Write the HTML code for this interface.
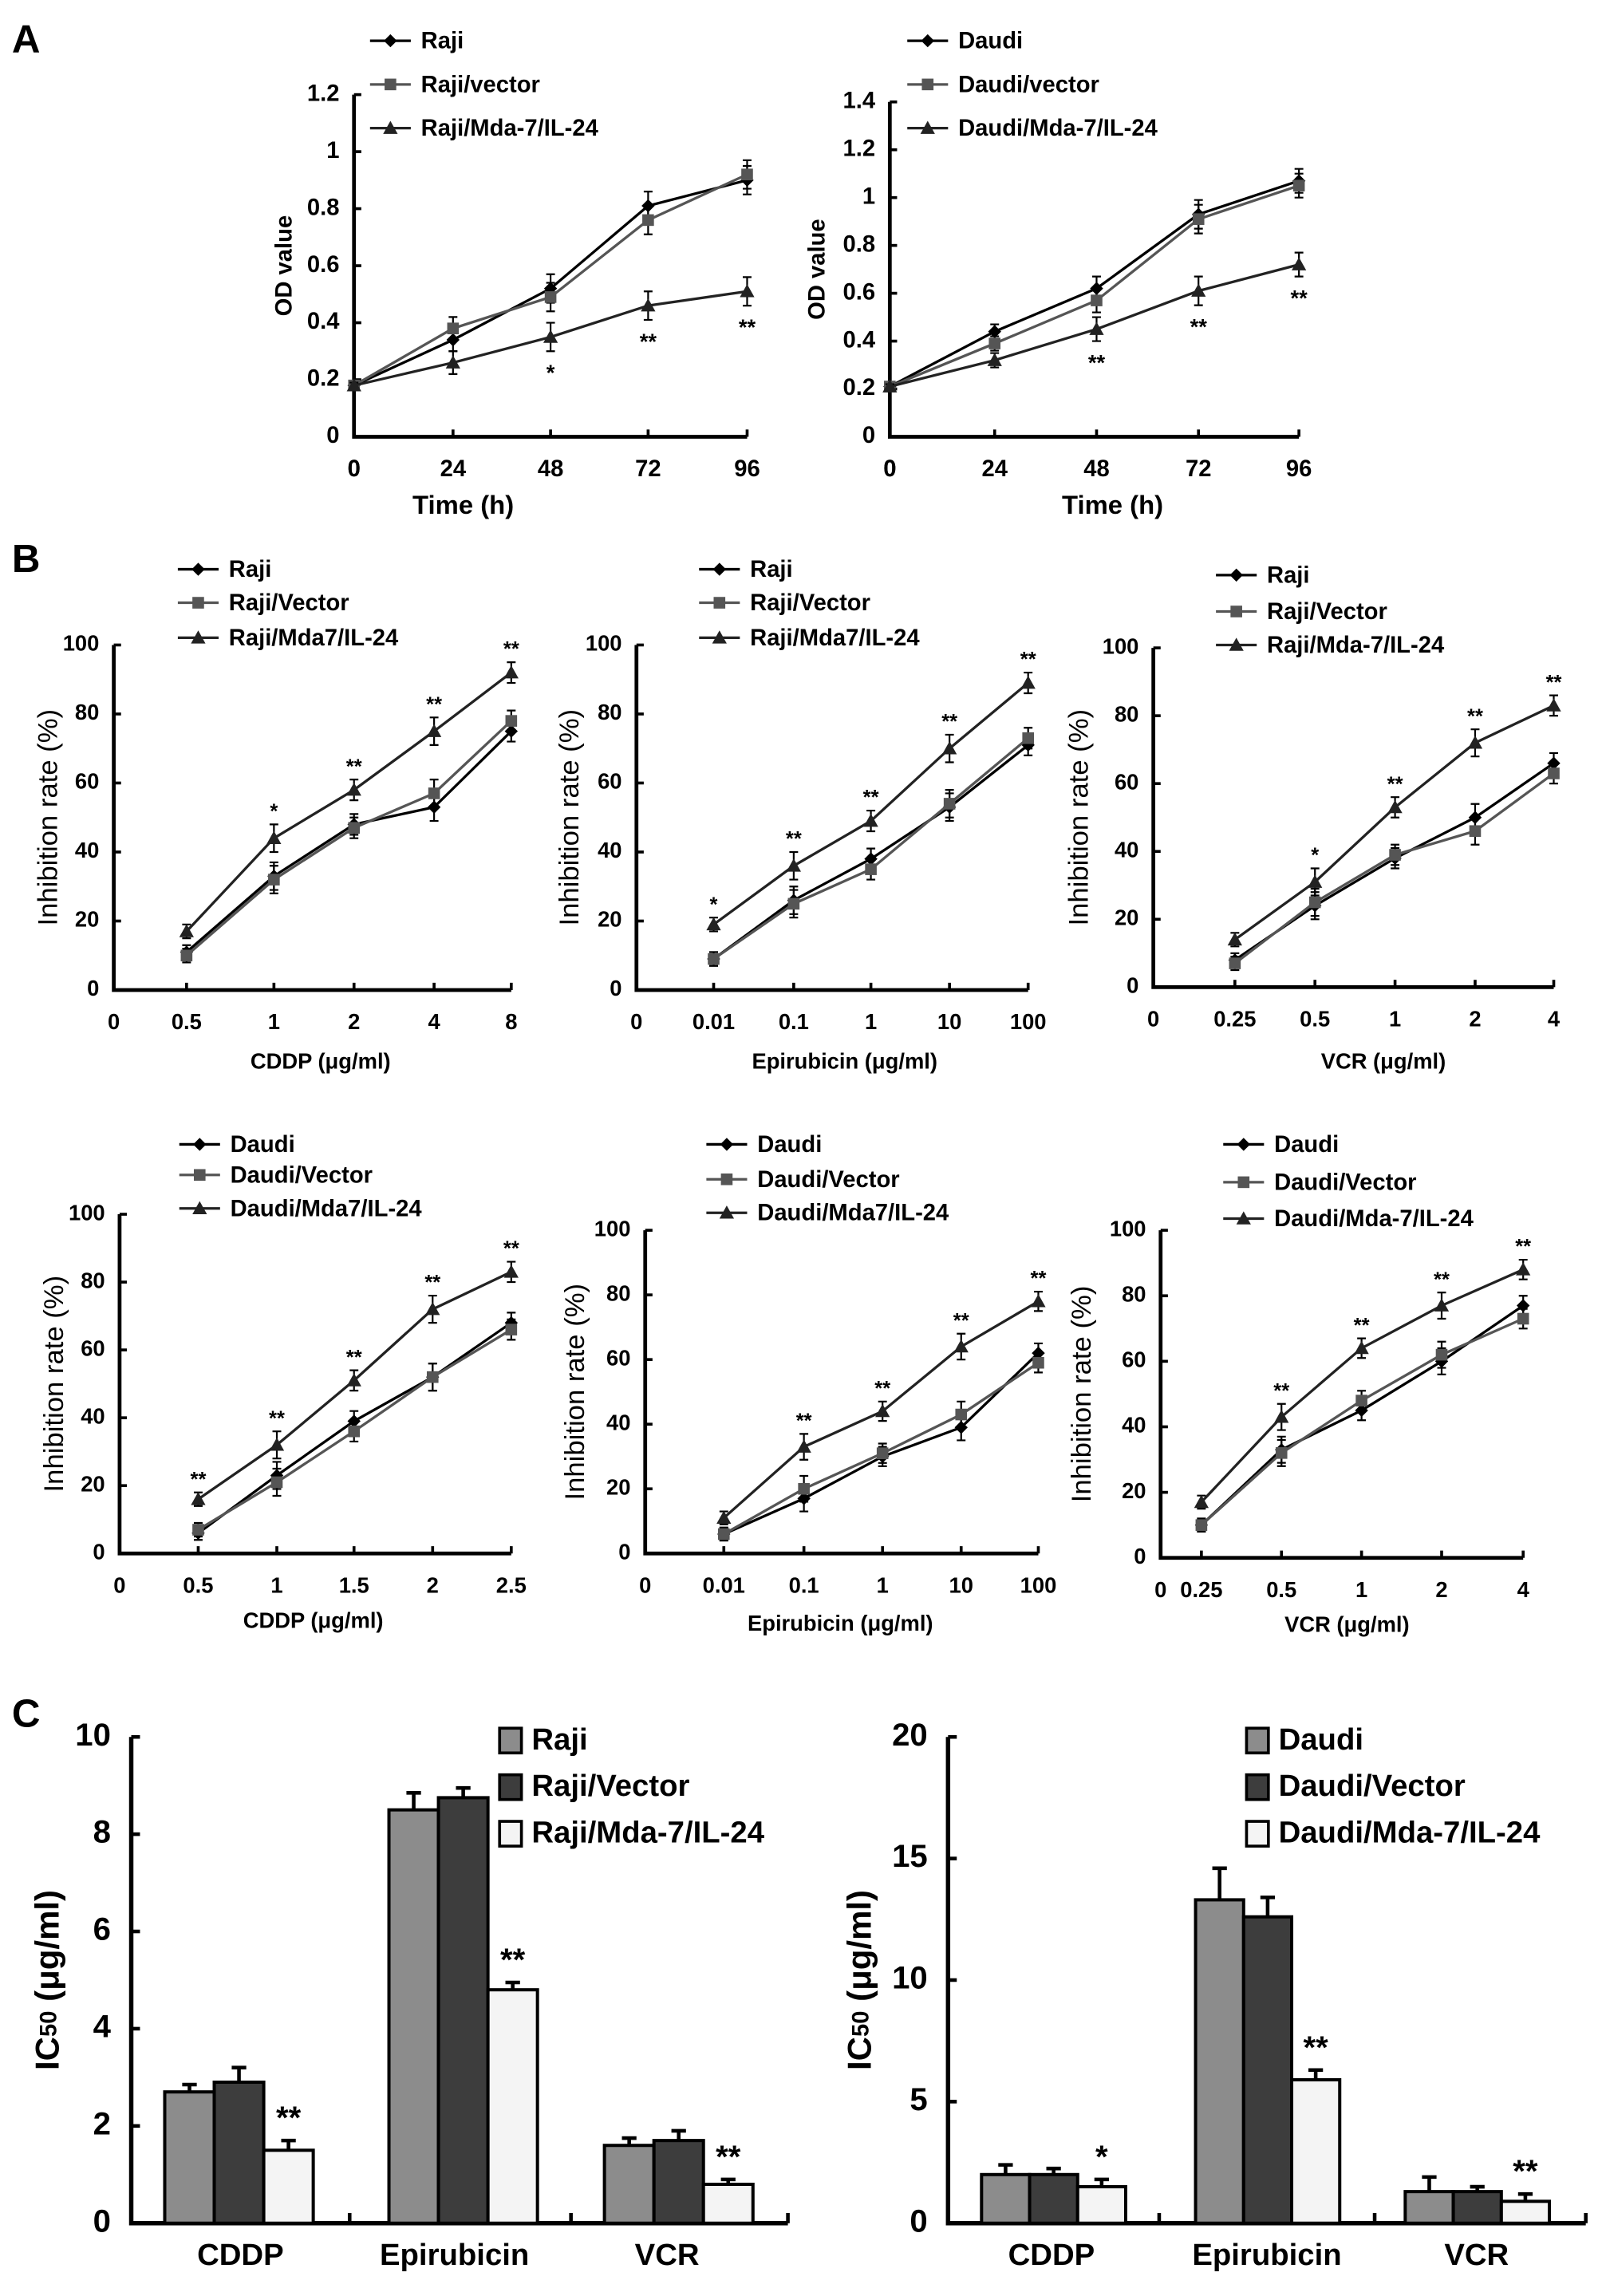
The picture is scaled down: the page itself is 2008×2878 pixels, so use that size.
<!DOCTYPE html>
<html><head><meta charset="utf-8"><style>
html,body{margin:0;padding:0;background:#fff}
svg{display:block}
text{font-family:"Liberation Sans",Arial,sans-serif;fill:#000}
</style></head><body>
<svg id="fig" xmlns="http://www.w3.org/2000/svg" width="2008" height="2878" viewBox="0 0 1100 1577">
<rect width="1100" height="1577" fill="#fff"/>
<text x="8" y="36" font-size="27" font-weight="bold">A</text>
<text x="8" y="393" font-size="27" font-weight="bold">B</text>
<text x="8" y="1186" font-size="27" font-weight="bold">C</text>
</svg>
<script>
// ---- Panel A data ----
const aTimes = ["0","24","48","72","96"];
const aLeftTicks = [0,0.2,0.4,0.6,0.8,1,1.2];
const aLeftRaji = [0.18,0.34,0.52,0.81,0.90];
const aLeftVec = [0.18,0.38,0.49,0.76,0.92];
const aLeftMda = [0.18,0.26,0.35,0.46,0.51];
const aLeftErr = [0.01,0.04,0.05,0.05,0.05];
const aLeftStars = ["","","*","**","**"];
const aRightTicks = [0,0.2,0.4,0.6,0.8,1,1.2,1.4];
const aRightRaji = [0.21,0.44,0.62,0.93,1.07];
const aRightVec = [0.21,0.39,0.57,0.91,1.05];
const aRightMda = [0.21,0.32,0.45,0.61,0.72];
const aRightErr = [0.01,0.03,0.05,0.06,0.05];
const aRightStars = ["","","**","**","**"];
// ---- Panel B data ----
const bTicks = [0,20,40,60,80,100];
const b1Cats = ["0.5","1","2","4","8"];
const b1S1 = [11,33,48,53,75];
const b1S2 = [10,32,47,57,78];
const b1S3 = [17,44,58,75,92];
const b1Stars = ["","*","**","**","**"];
const b2Cats = ["0.01","0.1","1","10","100"];
const b2S1 = [9,26,38,53,71];
const b2S2 = [9,25,35,54,73];
const b2S3 = [19,36,49,70,89];
const b2Stars = ["*","**","**","**","**"];
const b3Cats = ["0.25","0.5","1","2","4"];
const b3S1 = [8,24,38,50,66];
const b3S2 = [7,25,39,46,63];
const b3S3 = [14,31,53,72,83];
const b3Stars = ["","*","**","**","**"];
const b4Cats = ["0.5","1","1.5","2","2.5"];
const b4S1 = [6,23,39,52,68];
const b4S2 = [7,21,36,52,66];
const b4S3 = [16,32,51,72,83];
const b4Stars = ["**","**","**","**","**"];
const b5Cats = ["0.01","0.1","1","10","100"];
const b5S1 = [6,17,30,39,62];
const b5S2 = [6,20,31,43,59];
const b5S3 = [11,33,44,64,78];
const b5Stars = ["","**","**","**","**"];
const b6Cats = ["0.25","0.5","1","2","4"];
const b6S1 = [10,33,45,60,77];
const b6S2 = [10,32,48,62,73];
const b6S3 = [17,43,64,77,88];
const b6Stars = ["","**","**","**","**"];
// ---- Panel C data ----
const cCats = ["CDDP","Epirubicin","VCR"];
const cLeftTicks = [0,2,4,6,8,10];
const cLeftRaji = [2.7,8.5,1.6];
const cLeftVec = [2.9,8.75,1.7];
const cLeftMda = [1.5,4.8,0.8];
const cLeftErrRaji = [0.15,0.35,0.15];
const cLeftErrVec = [0.3,0.2,0.2];
const cLeftErrMda = [0.2,0.15,0.1];
const cLeftStars = ["**","**","**"];
const cRightTicks = [0,5,10,15,20];
const cRightRaji = [2.0,13.3,1.3];
const cRightVec = [2.0,12.6,1.3];
const cRightMda = [1.5,5.9,0.9];
const cRightErrRaji = [0.4,1.3,0.6];
const cRightErrVec = [0.25,0.8,0.2];
const cRightErrMda = [0.3,0.4,0.3];
const cRightStars = ["*","**","**"];

const svg = document.getElementById('fig');
const NS = 'http://www.w3.org/2000/svg';
function mk(tag, attrs, parent){
  const e = document.createElementNS(NS, tag);
  for (const k in attrs) e.setAttribute(k, attrs[k]);
  (parent||svg).appendChild(e);
  return e;
}
function txt(parent, x, y, s, size, bold, anchor, extra){
  const t = mk('text', {x:x, y:y, 'font-size':size, 'font-weight':bold?'bold':'normal', 'text-anchor':anchor||'start', 'dominant-baseline':'middle'}, parent);
  if (extra) for (const k in extra) t.setAttribute(k, extra[k]);
  t.textContent = s;
  return t;
}
function marker(g, kind, x, y, color){
  let m;
  if (kind==='d') m = mk('path', {d:`M${x} ${y-4.5}L${x+4.5} ${y}L${x} ${y+4.5}L${x-4.5} ${y}Z`, fill:color}, g);
  else if (kind==='s') m = mk('rect', {x:x-4, y:y-4, width:8, height:8, fill:color}, g);
  else m = mk('path', {d:`M${x} ${y-5}L${x+5} ${y+4}L${x-5} ${y+4}Z`, fill:color}, g);
  return m;
}

function lineChart(c){
  const g = mk('g', {});
  
  
  const ymax = c.ticks[c.ticks.length-1];
  const yS = v => c.y0 - (v/ymax)*(c.y0-c.yTop);
  const xS = i => c.xPos(i);
  const ax = mk('path', {d:`M${c.x0} ${c.yTop}V${c.y0}H${xS(c.cats.length-1)}`, stroke:'#000', 'stroke-width':2.6, fill:'none'}, g);
  
  
  c.ticks.forEach(t=>{
    const yy = yS(t);
    mk('line', {x1:c.x0, x2:c.x0+5, y1:yy, y2:yy, stroke:'#000', 'stroke-width':2}, g);
    const l = txt(g, c.x0-10, yy, String(t), c.fs, true, 'end');
    
    
  });
  const x0l = txt(g, c.x0, c.y0+23, '0', c.fs, true, 'middle');
  
  
  c.cats.forEach((cat,i)=>{
    const xx = xS(i);
    mk('line', {x1:xx, x2:xx, y1:c.y0, y2:c.y0-5, stroke:'#000', 'stroke-width':2}, g);
    const l = txt(g, xx, c.y0+23, cat, c.fs, true, 'middle');
    
    
  });
  const yt = txt(g, c.yLabelX, (c.yTop+c.y0)/2, c.yLabel, c.yfs, c.yBold, 'middle', {transform:`rotate(-90 ${c.yLabelX} ${(c.yTop+c.y0)/2})`});
  
  
  const xt = txt(g, c.xLabelX, c.xLabelY, c.xLabel, c.xfs, true, 'middle');
  
  
  const kinds = ['d','s','t'], cols = ['#000','#555','#222'];
  c.series.forEach((s,si)=>{
    const sg = mk('g', {}, g);
    
    
    let d = '';
    s.forEach((v,i)=>{
      d += (d?'L':'M') + xS(i) + ' ' + yS(v);
    });
    if (c.startAtZeroX) d = `M${c.x0} ${yS(s[0])}` + d.replace(/^M/,'L');
    mk('path', {d:d, stroke:cols[si], 'stroke-width':1.8, fill:'none'}, sg);
    s.forEach((v,i)=>{
      const xx = (c.startAtZeroX && i===0) ? c.x0 : xS(i);
      const e = c.err[i];
      const eh = (e/ymax)*(c.y0-c.yTop);
      const yy = yS(v);
      const eb = mk('path', {d:`M${xx} ${yy-eh}V${yy+eh}M${xx-3} ${yy-eh}H${xx+3}M${xx-3} ${yy+eh}H${xx+3}`, stroke:'#000', 'stroke-width':1.2, fill:'none'}, sg);
      
      
      const m = marker(sg, kinds[si], xx, yy, cols[si]);
      
      
    });
  });
  c.stars.forEach((st,i)=>{
    if (!st) return;
    const xx = (c.startAtZeroX && i===0) ? c.x0 : xS(i);
    let y;
    if (c.starsBelow) y = yS(c.series[2][i]) + (c.err[i]/ymax)*(c.y0-c.yTop) + 16;
    else y = yS(c.series[2][i]) - (c.err[i]/ymax)*(c.y0-c.yTop) - 8;
    const s = txt(g, xx, y, st, c.fs-1, true, 'middle');
    
    
  });
  c.legend.forEach((lab,i)=>{
    const lg = mk('g', {}, g);
    
    
    const yy = c.legY[i];
    mk('line', {x1:c.legX, x2:c.legX+28, y1:yy, y2:yy, stroke:cols[i], 'stroke-width':1.8}, lg);
    marker(lg, kinds[i], c.legX+14, yy, cols[i]);
    txt(lg, c.legX+35, yy+1, lab, c.lfs, true, 'start');
  });
}

const aLeftXs = [243,311,378,445,513];
lineChart({name:'chart-a-raji', x0:243, y0:300, yTop:65, ticks:aLeftTicks, cats:aTimes, xPos:i=>aLeftXs[i], fs:16,
  series:[aLeftRaji,aLeftVec,aLeftMda], err:aLeftErr, stars:aLeftStars, starsBelow:true,
  yLabel:'OD value', yLabelX:196, yfs:16, yBold:true, xLabel:'Time (h)', xLabelX:318, xLabelY:348, xfs:18,
  legend:['Raji','Raji/vector','Raji/Mda-7/IL-24'], legX:254, legY:[28,58,88], lfs:16});
const aRightXs = [611,683,753,823,892];
lineChart({name:'chart-a-daudi', x0:611, y0:300, yTop:70, ticks:aRightTicks, cats:aTimes, xPos:i=>aRightXs[i], fs:16,
  series:[aRightRaji,aRightVec,aRightMda], err:aRightErr, stars:aRightStars, starsBelow:true,
  yLabel:'OD value', yLabelX:562, yfs:16, yBold:true, xLabel:'Time (h)', xLabelX:764, xLabelY:348, xfs:18,
  legend:['Daudi','Daudi/vector','Daudi/Mda-7/IL-24'], legX:623, legY:[28,58,88], lfs:16});

const bErr1 = [2,4,3,4,3];
const cfgB = [
  {name:'chart-b-raji-cddp', x0:78, y0:680, yTop:443, xs:[128,188,243,298,351], cats:b1Cats, s:[b1S1,b1S2,b1S3], stars:b1Stars, yl:34, xl:'CDDP (μg/ml)', xlx:220, xly:730, leg:['Raji','Raji/Vector','Raji/Mda7/IL-24'], legX:122, legY:[391,414,438]},
  {name:'chart-b-raji-epirubicin', x0:437, y0:680, yTop:443, xs:[490,545,598,652,706], cats:b2Cats, s:[b2S1,b2S2,b2S3], stars:b2Stars, yl:392, xl:'Epirubicin (μg/ml)', xlx:580, xly:730, leg:['Raji','Raji/Vector','Raji/Mda7/IL-24'], legX:480, legY:[391,414,438]},
  {name:'chart-b-raji-vcr', x0:792, y0:678, yTop:445, xs:[848,903,958,1013,1067], cats:b3Cats, s:[b3S1,b3S2,b3S3], stars:b3Stars, yl:742, xl:'VCR (μg/ml)', xlx:950, xly:730, leg:['Raji','Raji/Vector','Raji/Mda-7/IL-24'], legX:835, legY:[395,420,443]},
  {name:'chart-b-daudi-cddp', x0:82, y0:1067, yTop:834, xs:[136,190,243,297,351], cats:b4Cats, s:[b4S1,b4S2,b4S3], stars:b4Stars, yl:38, xl:'CDDP (μg/ml)', xlx:215, xly:1114, leg:['Daudi','Daudi/Vector','Daudi/Mda7/IL-24'], legX:123, legY:[786,807,830]},
  {name:'chart-b-daudi-epirubicin', x0:443, y0:1067, yTop:845, xs:[497,552,606,660,713], cats:b5Cats, s:[b5S1,b5S2,b5S3], stars:b5Stars, yl:396, xl:'Epirubicin (μg/ml)', xlx:577, xly:1116, leg:['Daudi','Daudi/Vector','Daudi/Mda7/IL-24'], legX:485, legY:[786,810,833]},
  {name:'chart-b-daudi-vcr', x0:797, y0:1070, yTop:845, xs:[825,880,935,990,1046], cats:b6Cats, s:[b6S1,b6S2,b6S3], stars:b6Stars, yl:744, xl:'VCR (μg/ml)', xlx:925, xly:1117, leg:['Daudi','Daudi/Vector','Daudi/Mda-7/IL-24'], legX:840, legY:[786,812,837]}
];
cfgB.forEach(c=>{
  lineChart({name:c.name, x0:c.x0, y0:c.y0, yTop:c.yTop, ticks:bTicks, cats:c.cats, xPos:i=>c.xs[i], fs:15,
    series:c.s, err:bErr1, stars:c.stars, starsBelow:false,
    yLabel:'Inhibition rate (%)', yLabelX:c.yl, yfs:19, yBold:false, xLabel:c.xl, xLabelX:c.xlx, xLabelY:c.xly, xfs:15,
    legend:c.leg, legX:c.legX, legY:c.legY, lfs:16});
});

function barChart(c){
  const g = mk('g', {});
  
  
  const ymax = c.ticks[c.ticks.length-1];
  const yS = v => c.y0 - (v/ymax)*(c.y0-c.yTop);
  const ax = mk('path', {d:`M${c.x0} ${c.yTop}V${c.y0}H${c.xEnd}`, stroke:'#000', 'stroke-width':3, fill:'none'}, g);
  
  
  c.ticks.forEach(t=>{
    const yy = yS(t);
    mk('line', {x1:c.x0, x2:c.x0+6, y1:yy, y2:yy, stroke:'#000', 'stroke-width':2.5}, g);
    const l = txt(g, c.x0-14, yy, String(t), 22, true, 'end');
    
    
  });
  c.sep.concat([c.xEnd]).forEach(x=>mk('line', {x1:x, x2:x, y1:c.y0, y2:c.y0-7, stroke:'#000', 'stroke-width':2.5}, g));
  const yt = mk('text', {x:0, y:0, 'font-size':23, 'font-weight':'bold', 'text-anchor':'middle', 'dominant-baseline':'middle', transform:`translate(${c.yl} ${(c.yTop+c.y0)/2}) rotate(-90)`}, g);
  
  
  yt.innerHTML = 'IC<tspan font-size="16">50</tspan>  (μg/ml)';
  const fills = ['#8c8c8c','#3d3d3d','#f4f4f4'];
  const series = [c.a, c.b, c.m], errs = [c.ea, c.eb, c.em];
  c.cats.forEach((cat,ci)=>{
    const l = txt(g, c.catX[ci], 1550, cat, 21, true, 'middle');
    
    
    series.forEach((s,si)=>{
      const x = c.groupX[ci] + si*c.bw;
      const y = yS(s[ci]);
      const eh = (errs[si][ci]/ymax)*(c.y0-c.yTop);
      const cx = x + c.bw/2;
      mk('path', {d:`M${cx} ${y}V${y-eh}M${cx-5} ${y-eh}H${cx+5}`, stroke:'#000', 'stroke-width':2.5, fill:'none'}, g);
      const r = mk('rect', {x:x, y:y, width:c.bw, height:c.y0-y, fill:fills[si], stroke:'#000', 'stroke-width':2.2}, g);
      
      
      if (si===2) {
        const st = txt(g, cx, y-eh-14, c.stars[ci], 22, true, 'middle', {fill:'#333'});
        
        
      }
    });
  });
  c.legend.forEach((lab,i)=>{
    const lg = mk('g', {}, g);
    
    
    const yy = c.legY[i];
    mk('rect', {x:c.legX, y:yy-8, width:15, height:17, fill:fills[i], stroke:'#000', 'stroke-width':2}, lg);
    txt(lg, c.legX+22, yy+1, lab, 21, true, 'start');
  });
}
barChart({name:'chart-c-raji', x0:90, xEnd:541, y0:1527, yTop:1193, ticks:cLeftTicks, sep:[240,392], cats:cCats,
  groupX:[113,267,415], bw:34, catX:[165,312,458], a:cLeftRaji, b:cLeftVec, m:cLeftMda,
  ea:cLeftErrRaji, eb:cLeftErrVec, em:cLeftErrMda, stars:cLeftStars, yl:34,
  legend:['Raji','Raji/Vector','Raji/Mda-7/IL-24'], legX:343, legY:[1195,1227,1259]});
barChart({name:'chart-c-daudi', x0:651, xEnd:1089, y0:1527, yTop:1193, ticks:cRightTicks, sep:[796,944], cats:cCats,
  groupX:[674,821,965], bw:33, catX:[722,870,1014], a:cRightRaji, b:cRightVec, m:cRightMda,
  ea:cRightErrRaji, eb:cRightErrVec, em:cRightErrMda, stars:cRightStars, yl:592,
  legend:['Daudi','Daudi/Vector','Daudi/Mda-7/IL-24'], legX:856, legY:[1195,1227,1259]});
</script>
</body></html>
